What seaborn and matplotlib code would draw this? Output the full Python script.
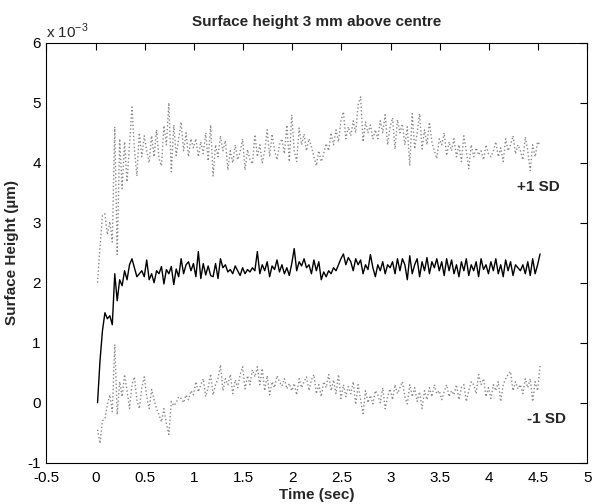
import numpy as np
import pandas as pd
import matplotlib
matplotlib.use("Agg")
import matplotlib.pyplot as plt
import seaborn as sns

# sampling grid (seconds)
t_start = 0.02
t_step = 0.025

# values in units of 1e-3
mean_height = [
    0.0, 0.7, 1.2, 1.5, 1.4, 1.45, 1.3, 2.15, 1.7, 2.05, 1.95, 2.2, 2.05, 2.3, 2.4, 2.25, 2.1, 2.15, 2.2, 2.1,
    2.38, 2.05, 2.15, 2.0, 2.2, 2.15, 2.27, 1.98, 2.22, 2.15, 2.27, 1.97, 2.23, 2.1, 2.4, 2.15, 2.3, 2.35, 2.2, 2.32,
    2.1, 2.52, 2.07, 2.32, 2.13, 2.28, 2.12, 2.1, 2.32, 2.07, 2.4, 2.25, 2.3, 2.18, 2.22, 2.15, 2.28, 2.2, 2.12, 2.25,
    2.15, 2.22, 2.18, 2.25, 2.2, 2.52, 2.15, 2.3, 2.2, 2.35, 2.1, 2.28, 2.22, 2.38, 2.18, 2.3, 2.15, 2.25, 2.12, 2.32,
    2.57, 2.2, 2.35, 2.28, 2.4, 2.25, 2.3, 2.15, 2.38, 2.2, 2.35, 2.05, 2.18, 2.1, 2.2, 2.15, 2.25, 2.2, 2.3, 2.4,
    2.48, 2.3, 2.42, 2.35, 2.2, 2.4, 2.3, 2.38, 2.15, 2.3, 2.22, 2.47, 2.25, 2.1, 2.3, 2.2, 2.35, 2.15, 2.3, 2.25,
    2.35, 2.15, 2.4, 2.2, 2.4, 2.3, 2.05, 2.45, 2.15, 2.3, 2.4, 2.1, 2.35, 2.2, 2.42, 2.15, 2.35, 2.25, 2.4, 2.2,
    2.35, 2.12, 2.4, 2.2, 2.38, 2.15, 2.3, 2.1, 2.35, 2.2, 2.4, 2.12, 2.3, 2.2, 2.35, 2.1, 2.4, 2.22, 2.3, 2.15,
    2.35, 2.2, 2.4, 2.15, 2.3, 2.1, 2.38, 2.2, 2.35, 2.12, 2.3, 2.25, 2.2, 2.3, 2.15, 2.35, 2.12, 2.4, 2.15, 2.3, 2.48,
]

plus_sd = [
    2.0, 2.6, 3.12, 3.15, 2.8, 3.02, 2.68, 4.6, 2.47, 4.4, 3.57, 4.35, 3.68, 4.3, 4.93, 4.22, 3.78, 4.5, 4.1, 4.45,
    4.2, 4.0, 4.45, 4.1, 4.55, 4.07, 3.95, 4.62, 4.3, 5.0, 3.85, 4.63, 4.12, 4.4, 4.68, 4.2, 4.5, 4.1, 4.4, 4.25,
    4.4, 4.1, 4.35, 4.15, 4.5, 4.03, 4.63, 3.78, 4.3, 4.1, 4.45, 4.2, 4.37, 3.88, 4.2, 4.0, 4.3, 4.05, 4.18, 4.4,
    3.88, 4.22, 4.05, 3.98, 4.47, 4.1, 4.3, 4.0, 4.2, 4.55, 4.1, 4.48, 4.2, 4.05, 4.3, 4.4, 4.15, 4.63, 4.02, 4.8,
    4.2, 4.02, 4.58, 4.3, 4.48, 4.2, 4.4, 4.27, 4.1, 3.95, 4.2, 4.02, 4.15, 4.32, 4.2, 4.5, 4.3, 4.55, 4.35, 4.7,
    4.85, 4.4, 4.6, 4.45, 4.7, 4.5, 4.97, 5.1, 4.35, 4.68, 4.5, 4.63, 4.4, 4.55, 4.4, 4.7, 4.5, 4.8, 4.3, 4.6,
    4.75, 4.23, 4.72, 4.5, 4.65, 4.3, 4.6, 3.95, 4.82, 4.23, 4.5, 4.82, 4.23, 4.55, 4.3, 4.68, 4.35, 4.2, 4.07, 4.4,
    4.3, 4.5, 4.12, 4.35, 4.2, 4.4, 4.1, 4.3, 4.02, 4.45, 4.2, 3.9, 4.3, 4.1, 4.25, 4.13, 4.2, 4.05, 4.3, 4.15,
    4.1, 4.2, 4.35, 4.1, 4.25, 4.02, 4.4, 4.2, 4.3, 4.45, 4.15, 4.3, 4.2, 4.05, 4.43, 4.2, 3.87, 4.3, 4.1, 4.35, 4.3,
]

minus_sd = [
    -0.45, -0.68, -0.3, -0.27, -0.03, 0.13, -0.15, 0.97, -0.2, 0.35, 0.1, 0.47, 0.2, -0.1, 0.3, 0.43, 0.05, -0.1, 0.25, 0.43,
    0.1, -0.1, 0.22, 0.05, -0.1, -0.2, -0.32, -0.1, -0.35, -0.53, 0.02, -0.05, 0.0, 0.1, 0.07, 0.0, 0.13, 0.05, 0.2, 0.13,
    0.35, 0.18, 0.3, 0.4, 0.1, 0.25, 0.48, 0.13, 0.3, 0.4, 0.63, 0.2, 0.4, 0.3, 0.47, 0.15, 0.38, 0.25, 0.47, 0.6,
    0.23, 0.45, 0.3, 0.55, 0.43, 0.6, 0.3, 0.57, 0.2, 0.45, 0.13, 0.35, 0.25, 0.45, 0.35, 0.28, 0.4, 0.23, 0.32, 0.2,
    0.32, 0.13, 0.4, 0.25, 0.35, 0.43, 0.2, 0.38, 0.47, 0.15, 0.3, 0.1, 0.35, 0.25, 0.47, 0.2, 0.38, 0.15, 0.47, 0.07,
    0.3, 0.1, 0.27, 0.15, 0.35, -0.03, 0.3, 0.05, -0.18, 0.2, 0.0, 0.12, -0.02, 0.2, 0.13, 0.0, 0.25, -0.1, 0.1, 0.23,
    0.05, 0.3, 0.15, 0.25, 0.35, 0.1, -0.02, 0.3, 0.1, 0.25, 0.02, 0.18, -0.1, 0.2, 0.05, 0.25, 0.1, 0.3, 0.15, 0.2,
    0.05, 0.18, 0.3, 0.1, 0.2, 0.13, 0.3, 0.05, 0.25, 0.3, 0.02, 0.2, 0.35, 0.3, 0.15, 0.47, 0.3, 0.4, 0.1, 0.25,
    0.07, 0.3, 0.2, 0.35, 0.02, 0.3, 0.4, 0.47, 0.52, 0.2, 0.35, 0.23, 0.3, 0.15, 0.4, 0.25, 0.4, 0.02, 0.35, 0.2, 0.63,
]

x_ticks = [-0.5, 0, 0.5, 1, 1.5, 2, 2.5, 3, 3.5, 4, 4.5, 5]
x_tick_labels = ["-0.5", "0", "0.5", "1", "1.5", "2", "2.5", "3", "3.5", "4", "4.5", "5"]
y_ticks = [-1, 0, 1, 2, 3, 4, 5, 6]
y_tick_labels = ["-1", "0", "1", "2", "3", "4", "5", "6"]

n = min(len(mean_height), len(plus_sd), len(minus_sd))
time_sec = t_start + t_step * np.arange(n)

df = pd.DataFrame({
    "time": time_sec,
    "mean": mean_height[:n],
    "plus": plus_sd[:n],
    "minus": minus_sd[:n],
})

sns.set_style("white")
plt.rcParams["font.family"] = ["Liberation Sans", "DejaVu Sans"]
plt.rcParams["mathtext.fontset"] = "custom"
plt.rcParams["mathtext.rm"] = "Liberation Sans"

fig = plt.figure(figsize=(5.95, 5.04), dpi=100)
ax = fig.add_axes([0.078, 0.082, 0.909, 0.833])

sns.lineplot(data=df, x="time", y="plus", ax=ax, color="#8a8a8a", linestyle=":", linewidth=1.0, estimator=None)
sns.lineplot(data=df, x="time", y="minus", ax=ax, color="#8a8a8a", linestyle=":", linewidth=1.0, estimator=None)
sns.lineplot(data=df, x="time", y="mean", ax=ax, color="black", linestyle="-", linewidth=1.0, estimator=None)

ax.set_xlim(-0.5, 5)
ax.set_ylim(-1, 6)
ax.set_xticks(x_ticks)
ax.set_xticklabels(x_tick_labels)
ax.set_yticks(y_ticks)
ax.set_yticklabels(y_tick_labels)
ax.tick_params(direction="in", length=5, width=0.8, top=True, right=True,
               labelsize=11, colors="black")
ax.tick_params(axis="x", pad=6)
ax.tick_params(axis="y", pad=4)
for s in ax.spines.values():
    s.set_visible(True)
    s.set_color("black")
    s.set_linewidth(0.8)

ax.set_xlabel("Time (sec)", fontsize=11, fontweight="bold", labelpad=2)
ax.set_ylabel("Surface Height (\u00b5m)", fontsize=11, fontweight="bold", labelpad=6)
ax.set_title("Surface height 3 mm above centre", fontsize=11, fontweight="bold", pad=12)

ax.text(0.0, 1.004, "x 10$^{-3}$", transform=ax.transAxes, ha="left", va="bottom", fontsize=11)

ax.text(4.5, 3.6, "+1 SD", fontsize=11, fontweight="bold", ha="center", va="center")
ax.text(4.59, -0.28, "-1 SD", fontsize=11, fontweight="bold", ha="center", va="center")

fig.savefig("out.png", dpi=100, facecolor="white")
